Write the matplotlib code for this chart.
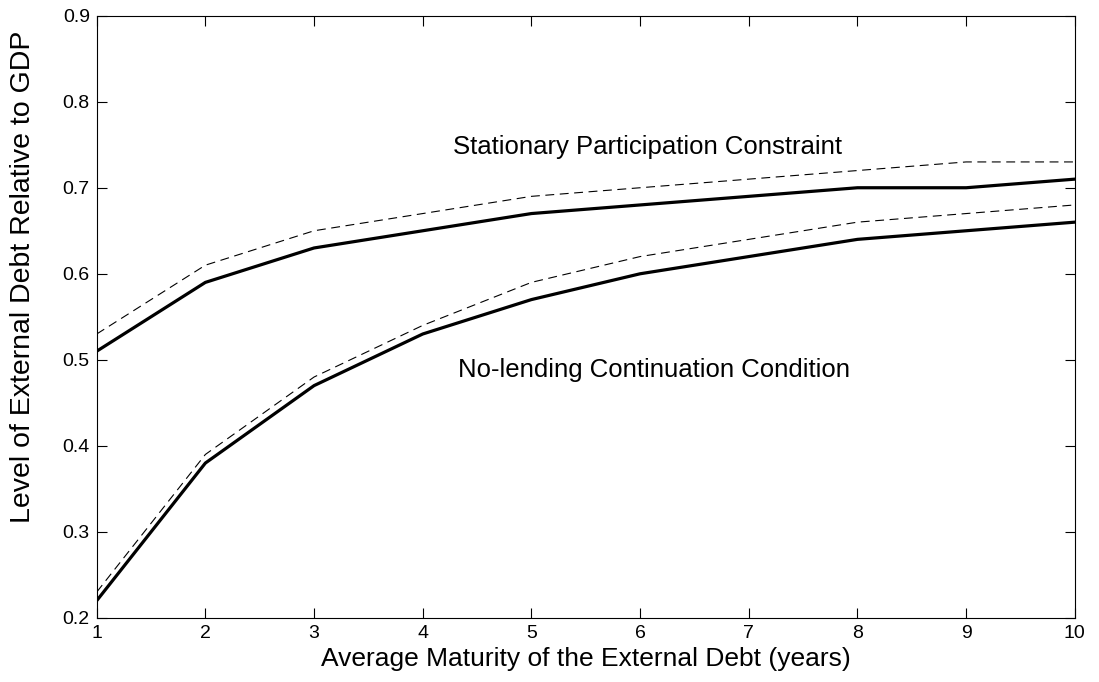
import matplotlib
matplotlib.use("Agg")
import matplotlib.pyplot as plt

plt.rcParams['font.family'] = ['Liberation Sans', 'DejaVu Sans']

# Average maturity (years)
maturity = [1, 2, 3, 4, 5, 6, 7, 8, 9, 10]

# Stationary participation constraint
spc_solid = [0.51, 0.59, 0.63, 0.65, 0.67, 0.68, 0.69, 0.70, 0.70, 0.71]
spc_dashed = [0.53, 0.61, 0.65, 0.67, 0.69, 0.70, 0.71, 0.72, 0.73, 0.73]

# No-lending continuation condition
nlc_solid = [0.22, 0.38, 0.47, 0.53, 0.57, 0.60, 0.62, 0.64, 0.65, 0.66]
nlc_dashed = [0.23, 0.39, 0.48, 0.54, 0.59, 0.62, 0.64, 0.66, 0.67, 0.68]

fig = plt.figure(figsize=(10.99, 6.82), dpi=100)
ax = fig.add_axes([0.088, 0.094, 0.890, 0.883])

ax.plot(maturity, spc_solid, 'k-', lw=2.3)
ax.plot(maturity, spc_dashed, 'k--', lw=0.8, dashes=(8, 5))
ax.plot(maturity, nlc_solid, 'k-', lw=2.3)
ax.plot(maturity, nlc_dashed, 'k--', lw=0.8, dashes=(8, 5))

ax.text(6.07, 0.747, 'Stationary Participation Constraint', fontsize=18.5,
        ha='center', va='center')
ax.text(6.13, 0.488, 'No-lending Continuation Condition', fontsize=18.5,
        ha='center', va='center')

ax.set_xlim(1, 10)
ax.set_ylim(0.2, 0.9)
ax.set_xticks(range(1, 11))
ax.set_yticks([0.2, 0.3, 0.4, 0.5, 0.6, 0.7, 0.8, 0.9])
ax.tick_params(direction='in', top=True, right=True, length=7, width=0.8,
               labelsize=14, pad=5)
for s in ax.spines.values():
    s.set_linewidth(0.8)

ax.set_xlabel('Average Maturity of the External Debt (years)', fontsize=19, labelpad=4)
ax.set_ylabel('Level of External Debt Relative to GDP', fontsize=20.5)
ax.yaxis.set_label_coords(-0.062, 0.566)

fig.savefig('out.png', dpi=100)
